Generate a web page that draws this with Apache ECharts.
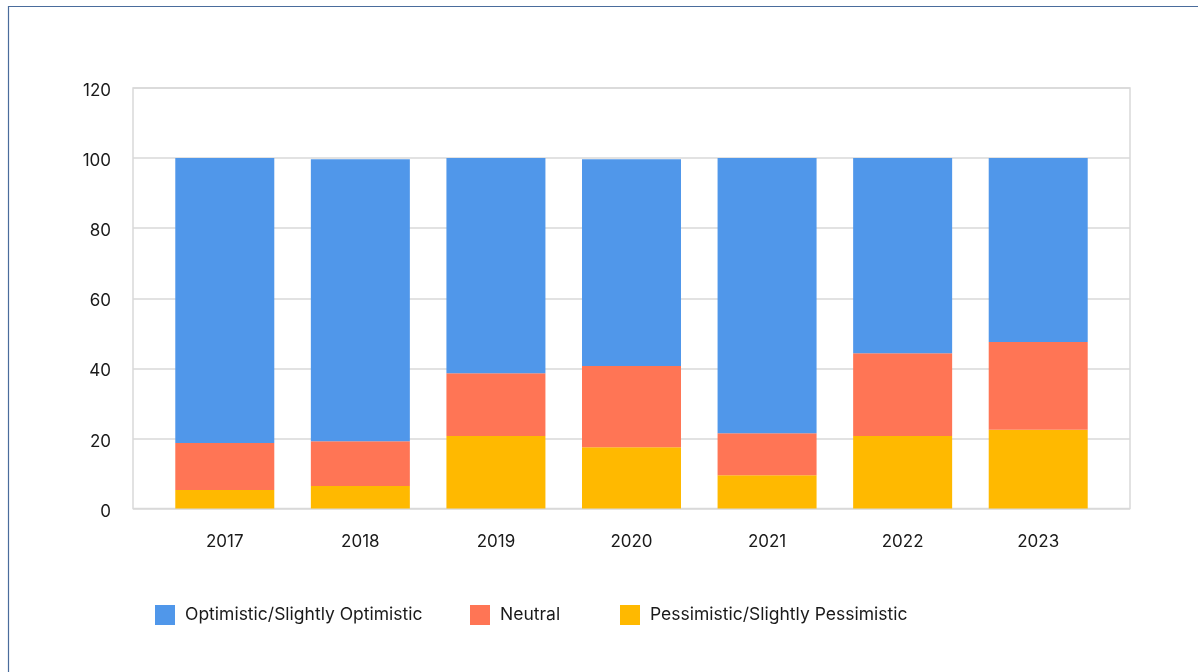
<!DOCTYPE html>
<html>
<head>
<meta charset="utf-8">
<script src="https://cdn.jsdelivr.net/npm/echarts@6/dist/echarts.min.js"></script>
<style>
  html, body { margin: 0; padding: 0; background: #ffffff; }
  #chart { width: 1198px; height: 672px; }
</style>
</head>
<body>
<div id="chart"></div>
<script>
// Survey sentiment by year (percent of respondents)
const years = ['2017', '2018', '2019', '2020', '2021', '2022', '2023'];
const pessimistic = [5.3, 6.4, 20.7, 17.5, 9.5, 20.7, 22.5];
const neutral = [13.4, 12.8, 17.9, 23.2, 12.0, 23.6, 25.0];
const optimistic = [81.3, 80.5, 61.4, 59.0, 78.5, 55.7, 52.5];
const yTicks = { min: 0, max: 120, interval: 20 };

const names = {
  opt: 'Optimistic/Slightly Optimistic',
  neu: 'Neutral',
  pes: 'Pessimistic/Slightly Pessimistic'
};
const colors = { opt: '#5097ea', neu: '#ff7555', pes: '#ffb900' };
const fontFamily = 'Inter, Roboto, sans-serif';
const textColor = '#1a1a1a';

const chart = echarts.init(document.getElementById('chart'), null, { renderer: 'canvas' });

function legendItem(name, left) {
  return {
    data: [name],
    left: left,
    top: 605,
    orient: 'horizontal',
    icon: 'rect',
    itemWidth: 20,
    itemHeight: 20,
    textStyle: { fontFamily: fontFamily, fontSize: 17.5, color: textColor, padding: [0, 0, 0, 5] },
    padding: 0,
    selectedMode: false
  };
}

const barSeries = (key, values) => ({
  name: names[key],
  type: 'bar',
  stack: 'total',
  data: values,
  barWidth: 99,
  xAxisIndex: 1,
  yAxisIndex: 1,
  itemStyle: { color: colors[key] },
  emphasis: { disabled: true }
});

const plotTop = 88;
const plotBottom = 163.5;

chart.setOption({
  animation: false,
  backgroundColor: '#ffffff',
  graphic: [{
    type: 'rect',
    shape: { x: 8.5, y: 6.5, width: 1400, height: 900 },
    style: { fill: 'none', stroke: '#4a6c9c', lineWidth: 1.2 },
    silent: true
  }],
  legend: [
    legendItem(names.opt, 155),
    legendItem(names.neu, 470),
    legendItem(names.pes, 620)
  ],
  grid: [
    // frame and value gridlines
    {
      left: 133, right: 68, top: plotTop, bottom: plotBottom,
      show: true, borderColor: '#d9d9d9', borderWidth: 1.5
    },
    // inset band where the year columns sit
    { left: 157, right: 92, top: plotTop, bottom: plotBottom }
  ],
  xAxis: [
    { type: 'category', gridIndex: 0, data: years, show: false },
    {
      type: 'category',
      gridIndex: 1,
      data: years,
      axisLine: { show: false },
      axisTick: { show: false },
      axisLabel: { fontFamily: fontFamily, fontSize: 17, color: textColor, margin: 25 }
    }
  ],
  yAxis: [
    {
      type: 'value',
      gridIndex: 0,
      min: yTicks.min,
      max: yTicks.max,
      interval: yTicks.interval,
      axisLine: { show: false },
      axisTick: { show: false },
      axisLabel: {
        fontFamily: fontFamily, fontSize: 17, color: textColor, margin: 22,
        verticalAlign: 'top', lineHeight: 6
      },
      splitLine: { lineStyle: { color: '#d9d9d9', width: 1.5 } }
    },
    {
      type: 'value',
      gridIndex: 1,
      min: yTicks.min,
      max: yTicks.max,
      interval: yTicks.interval,
      show: false,
      splitLine: { show: false }
    }
  ],
  series: [
    barSeries('pes', pessimistic),
    barSeries('neu', neutral),
    barSeries('opt', optimistic)
  ]
});
</script>
</body>
</html>
